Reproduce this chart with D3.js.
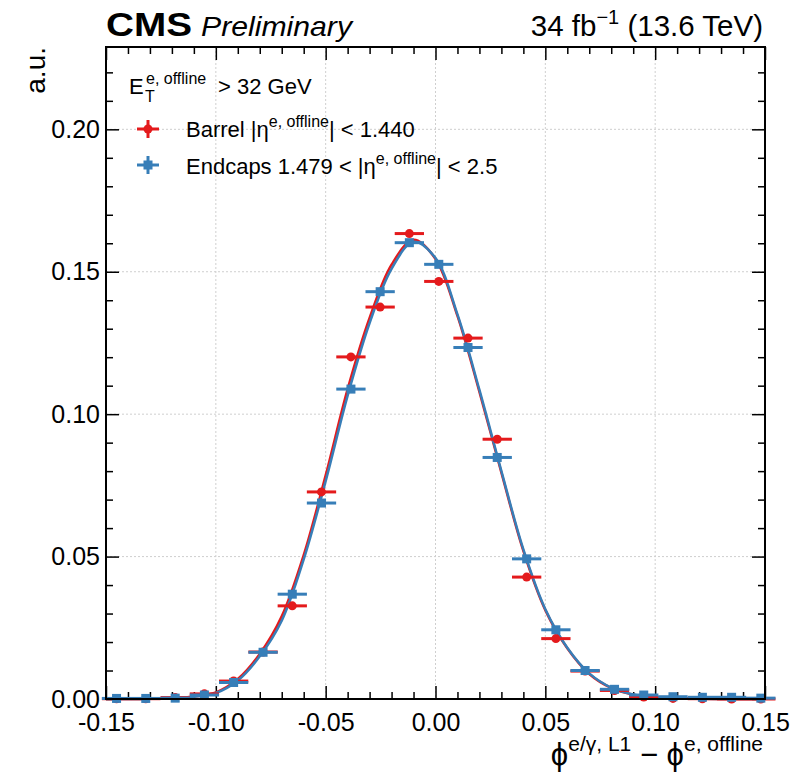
<!DOCTYPE html>
<html>
<head>
<meta charset="utf-8">
<script src="https://cdn.jsdelivr.net/npm/d3@7"></script>
<style>
  body { margin: 0; background: #fff; }
  svg text { font-family: "Liberation Sans", Arial, sans-serif; fill: #000; }
</style>
</head>
<body>
<svg id="chart" width="797" height="775"></svg>
<script>
// ---------- DATA ----------
const binCenters = [-0.1452, -0.1319, -0.1185, -0.1052, -0.0919, -0.0785, -0.0652, -0.0519,
  -0.0385, -0.0252, -0.0119, 0.0015, 0.0148, 0.0281, 0.0415, 0.0548, 0.0681, 0.0815,
  0.0948, 0.1081, 0.1215, 0.1348, 0.1481];
const binHalfWidth = 0.00667;

const barrelValues = [0.0001, 0.0001, 0.0005, 0.0018, 0.0063, 0.0165, 0.0327, 0.0727,
  0.1201, 0.1376, 0.1634, 0.1466, 0.1267, 0.0912, 0.0428, 0.0212, 0.0098, 0.0030,
  0.0007, 0.0002, 0.0001, 0.0000, 0.0000];
const endcapValues = [0.0002, 0.0002, 0.0003, 0.0014, 0.0058, 0.0164, 0.0368, 0.0688,
  0.1088, 0.1430, 0.1602, 0.1526, 0.1234, 0.0848, 0.0492, 0.0243, 0.0100, 0.0034,
  0.0014, 0.0008, 0.0006, 0.0006, 0.0003];

// fit curves
const curveX = [-0.15, -0.14, -0.13, -0.12, -0.11, -0.10, -0.09, -0.08, -0.07, -0.06, -0.05,
  -0.04, -0.03, -0.02, -0.01, 0.00, 0.01, 0.02, 0.03, 0.04, 0.05, 0.06, 0.07, 0.08, 0.09,
  0.10, 0.11, 0.12, 0.13, 0.14, 0.15];
const barrelCurve = [0, 0, 0.0001, 0.0003, 0.0009, 0.0023, 0.0070, 0.0158, 0.0290, 0.0505,
  0.0785, 0.1088, 0.1338, 0.1525, 0.1612, 0.1545, 0.1345, 0.1078, 0.0795, 0.0520, 0.0312,
  0.0178, 0.0088, 0.0039, 0.0015, 0.0005, 0.0002, 0.0001, 0, 0, 0];
const endcapCurve = [0, 0, 0.0001, 0.0003, 0.0008, 0.0021, 0.0065, 0.0150, 0.0275, 0.0490,
  0.0765, 0.1065, 0.1320, 0.1510, 0.1605, 0.1548, 0.1350, 0.1085, 0.0800, 0.0525, 0.0315,
  0.0180, 0.0090, 0.0040, 0.0016, 0.0006, 0.0002, 0.0001, 0, 0, 0];

const xTicks = [-0.15, -0.10, -0.05, 0.00, 0.05, 0.10, 0.15];
const yTicks = [0.00, 0.05, 0.10, 0.15, 0.20];

const red = "#e41a1c";
const blue = "#377eb8";

// ---------- SETUP ----------
const svg = d3.select("#chart");
const pL = 106, pR = 765, pT = 47, pB = 699;

const x = d3.scaleLinear().domain([-0.15, 0.15]).range([pL, pR]);
const y = d3.scaleLinear().domain([0, 0.2289]).range([pB, pT]);

const xMinor = d3.range(-15, 16).map(d => d / 100).filter(v => !xTicks.some(t => Math.abs(t - v) < 1e-9));
const yMinor = d3.range(0, 23).map(d => d / 100).filter(v => !yTicks.some(t => Math.abs(t - v) < 1e-9));

// ---------- GRID ----------
const grid = svg.append("g")
  .attr("stroke", "#cfcfcf")
  .attr("stroke-width", 1)
  .attr("stroke-dasharray", "2,2");
grid.selectAll(".gx").data(xTicks.slice(1, -1)).enter().append("line")
  .attr("x1", d => x(d)).attr("x2", d => x(d))
  .attr("y1", pT).attr("y2", pB);
grid.selectAll(".gy").data(yTicks.slice(1)).enter().append("line")
  .attr("x1", pL).attr("x2", pR)
  .attr("y1", d => y(d)).attr("y2", d => y(d));

// ---------- AXES ----------
function styleAxis(g) {
  g.select(".domain").remove();
  g.selectAll(".tick line").attr("stroke", "#000").attr("stroke-width", 1.5);
  g.selectAll(".tick text").style("font-size", "25px");
}
const fmt = d => d.toFixed(2);

svg.append("g").attr("transform", `translate(0,${pB})`)
  .call(d3.axisBottom(x).tickValues(xTicks).tickSize(-13).tickPadding(14).tickFormat(fmt))
  .call(styleAxis);
svg.append("g").attr("transform", `translate(0,${pB})`)
  .call(d3.axisBottom(x).tickValues(xMinor).tickSize(-7).tickFormat(""))
  .call(styleAxis);
svg.append("g").attr("transform", `translate(0,${pT})`)
  .call(d3.axisTop(x).tickValues(xTicks).tickSize(-13).tickFormat(""))
  .call(styleAxis);
svg.append("g").attr("transform", `translate(0,${pT})`)
  .call(d3.axisTop(x).tickValues(xMinor).tickSize(-7).tickFormat(""))
  .call(styleAxis);

svg.append("g").attr("transform", `translate(${pL},0)`)
  .call(d3.axisLeft(y).tickValues(yTicks).tickSize(-13).tickPadding(6).tickFormat(fmt))
  .call(styleAxis);
svg.append("g").attr("transform", `translate(${pL},0)`)
  .call(d3.axisLeft(y).tickValues(yMinor).tickSize(-7).tickFormat(""))
  .call(styleAxis);
svg.append("g").attr("transform", `translate(${pR},0)`)
  .call(d3.axisRight(y).tickValues(yTicks).tickSize(-13).tickFormat(""))
  .call(styleAxis);
svg.append("g").attr("transform", `translate(${pR},0)`)
  .call(d3.axisRight(y).tickValues(yMinor).tickSize(-7).tickFormat(""))
  .call(styleAxis);

// ---------- CURVES ----------
const line = d3.line()
  .x((d, i) => x(curveX[i]))
  .y(d => y(d))
  .curve(d3.curveCatmullRom.alpha(0.5));

svg.append("path").datum(barrelCurve)
  .attr("d", line).attr("fill", "none")
  .attr("stroke", red).attr("stroke-width", 2.5);
svg.append("path").datum(endcapCurve)
  .attr("d", line).attr("fill", "none")
  .attr("stroke", blue).attr("stroke-width", 2.5);

// ---------- POINTS ----------
function drawPoints(values, color, square) {
  const g = svg.append("g");
  g.selectAll("line").data(values).enter().append("line")
    .attr("x1", (d, i) => x(binCenters[i] - binHalfWidth))
    .attr("x2", (d, i) => x(binCenters[i] + binHalfWidth))
    .attr("y1", d => y(d)).attr("y2", d => y(d))
    .attr("stroke", color).attr("stroke-width", 3);
  if (square) {
    g.selectAll("rect").data(values).enter().append("rect")
      .attr("x", (d, i) => x(binCenters[i]) - 4.5)
      .attr("y", d => y(d) - 4.5)
      .attr("width", 9).attr("height", 9)
      .attr("fill", color);
  } else {
    g.selectAll("circle").data(values).enter().append("circle")
      .attr("cx", (d, i) => x(binCenters[i]))
      .attr("cy", d => y(d))
      .attr("r", 4.5)
      .attr("fill", color);
  }
}
drawPoints(barrelValues, red, false);
drawPoints(endcapValues, blue, true);

// ---------- FRAME ----------
svg.append("rect")
  .attr("x", pL).attr("y", pT)
  .attr("width", pR - pL).attr("height", pB - pT)
  .attr("fill", "none").attr("stroke", "#000").attr("stroke-width", 2);

// ---------- LABELS ----------
svg.append("text")
  .attr("x", pL).attr("y", 36)
  .attr("textLength", 86).attr("lengthAdjust", "spacingAndGlyphs")
  .style("font-size", "33px").style("font-weight", "bold")
  .text("CMS");
svg.append("text")
  .attr("x", 201).attr("y", 36)
  .attr("textLength", 151).attr("lengthAdjust", "spacingAndGlyphs")
  .style("font-size", "28px").style("font-style", "italic")
  .text("Preliminary");

const lumi = svg.append("text")
  .attr("x", 763).attr("y", 36)
  .attr("text-anchor", "end")
  .style("font-size", "29.5px");
lumi.append("tspan").text("34 fb");
lumi.append("tspan").attr("dy", -12).style("font-size", "20px").text("\u22121");
lumi.append("tspan").attr("dy", 12).text(" (13.6 TeV)");

svg.append("text")
  .attr("transform", "translate(45,47) rotate(-90)")
  .attr("text-anchor", "end")
  .style("font-size", "28px")
  .text("a.u.");

const xl = svg.append("text")
  .attr("x", 763).attr("y", 765)
  .attr("text-anchor", "end")
  .style("font-size", "31px");
xl.append("tspan").text("\u03d5");
xl.append("tspan").attr("dy", -14).style("font-size", "21px").text("e/\u03b3, L1");
xl.append("tspan").attr("dy", 14).text(" \u2212 \u03d5");
xl.append("tspan").attr("dy", -14).style("font-size", "21px").text("e, offline");

// ---------- LEGEND ----------
svg.append("text").attr("x", 129).attr("y", 94).style("font-size", "22px").text("E");
svg.append("text").attr("x", 145).attr("y", 102).style("font-size", "16px").text("T");
svg.append("text").attr("x", 146).attr("y", 84).style("font-size", "16px").text("e, offline");
svg.append("text").attr("x", 218).attr("y", 94).style("font-size", "22px").text("> 32 GeV");

const legendItems = [
  { color: red, square: false, cy: 129, base: 137, pre: "Barrel |\u03b7", post: "| < 1.440" },
  { color: blue, square: true, cy: 165, base: 174, pre: "Endcaps 1.479 < |\u03b7", post: "| < 2.5" }
];
legendItems.forEach(item => {
  const g = svg.append("g");
  g.append("line").attr("x1", 137).attr("x2", 159).attr("y1", item.cy).attr("y2", item.cy)
    .attr("stroke", item.color).attr("stroke-width", 3);
  g.append("line").attr("x1", 148).attr("x2", 148).attr("y1", item.cy - 9).attr("y2", item.cy + 9)
    .attr("stroke", item.color).attr("stroke-width", 3);
  if (item.square) {
    g.append("rect").attr("x", 143.5).attr("y", item.cy - 4.5).attr("width", 9).attr("height", 9)
      .attr("fill", item.color);
  } else {
    g.append("circle").attr("cx", 148).attr("cy", item.cy).attr("r", 4.5).attr("fill", item.color);
  }
  const t = g.append("text").attr("x", 186).attr("y", item.base).style("font-size", "22px");
  t.append("tspan").text(item.pre);
  t.append("tspan").attr("dy", -10).style("font-size", "16px").text("e, offline");
  t.append("tspan").attr("dy", 10).text(item.post);
});
</script>
</body>
</html>
